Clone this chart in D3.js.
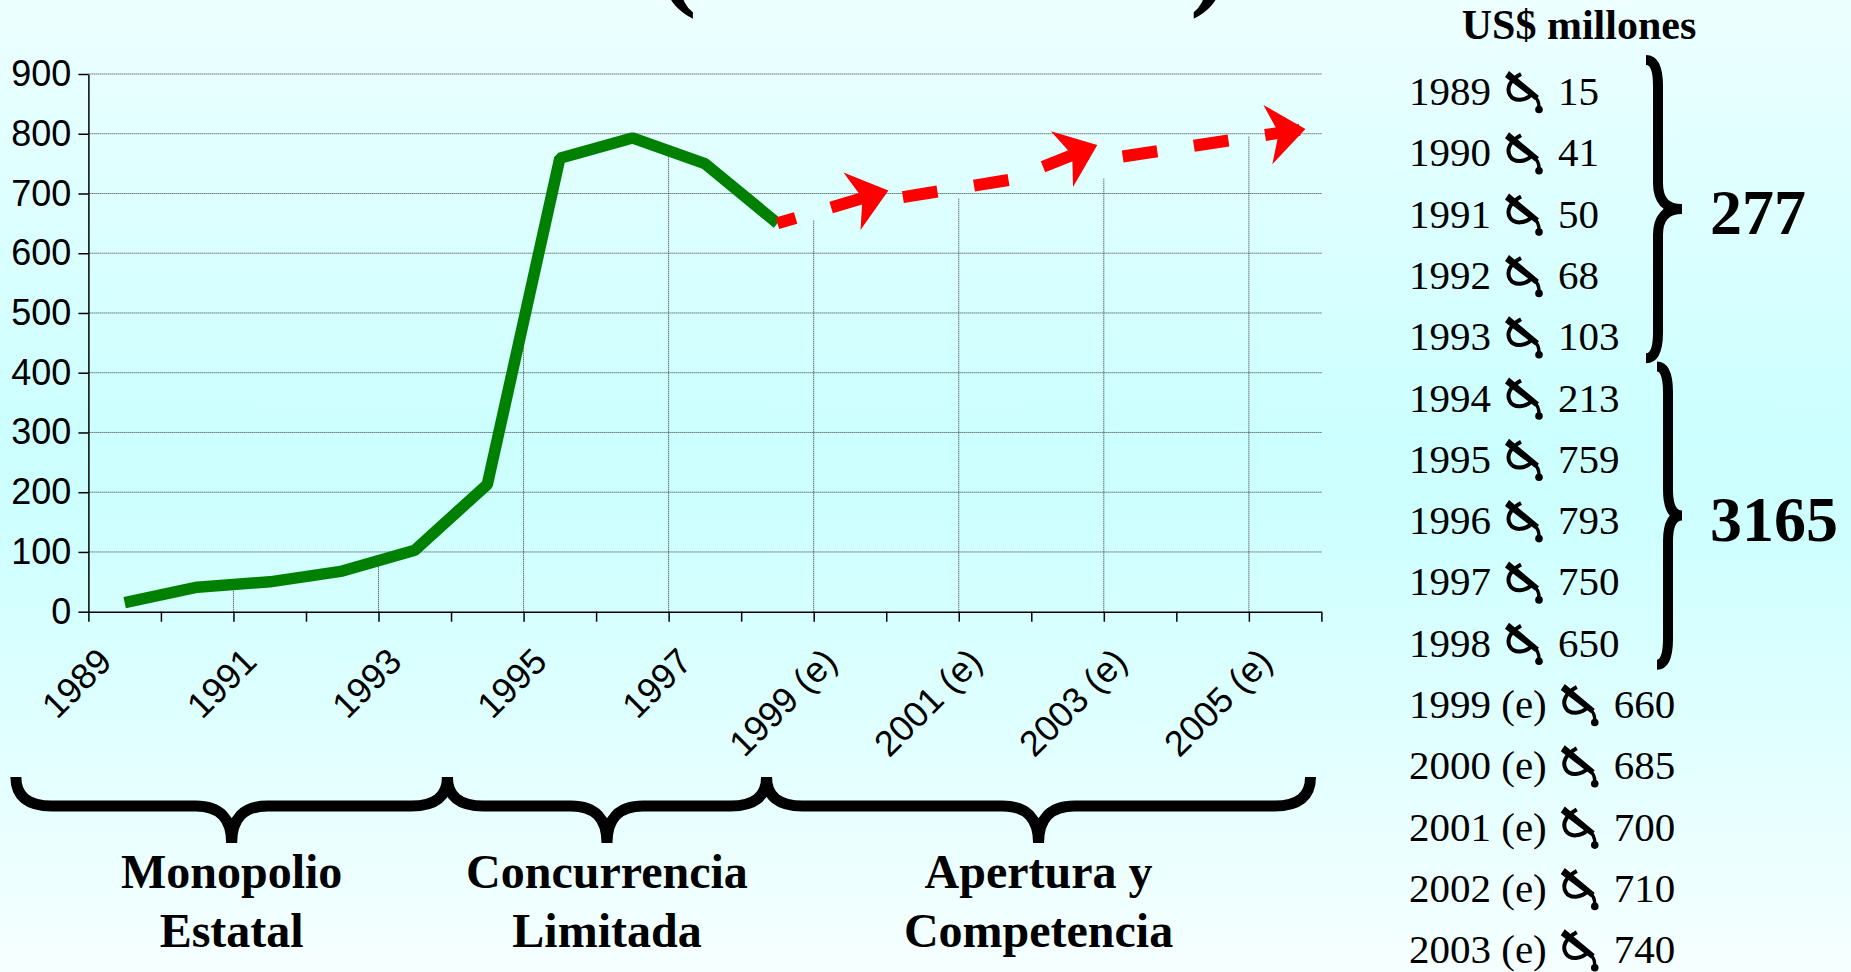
<!DOCTYPE html>
<html>
<head>
<meta charset="utf-8">
<script src="https://cdn.jsdelivr.net/npm/d3@7"></script>
<style>
    body { margin: 0; overflow: hidden; }
    svg { display: block; }
</style>
</head>
<body>
<div id="chart"></div>
<script>
// years on the category axis and their labels
var years = [1989, 1990, 1991, 1992, 1993, 1994, 1995, 1996, 1997, 1998,
             1999, 2000, 2001, 2002, 2003, 2004, 2005];
var categories = ["1989", "1990", "1991", "1992", "1993", "1994", "1995", "1996", "1997", "1998",
                  "1999 (e)", "2000 (e)", "2001 (e)", "2002 (e)", "2003 (e)", "2004 (e)", "2005 (e)"];

// US$ millones, real values 1989-1998 and estimates 1999-2005
var actualValues = [15, 41, 50, 68, 103, 213, 759, 793, 750, 650];
var estimateValues = [660, 685, 700, 710, 740, 780, 810];

var yTicks = [0, 100, 200, 300, 400, 500, 600, 700, 800, 900];

// red trend arrows: [year, value] points
var trendArrows = [
    [[1998, 650], [1999.53, 705]],
    [[1999.73, 694], [2001.21, 723], [2002.41, 781]],
    [[2002.76, 762], [2005.28, 808]]
];
var arrowDashOffset = [16, 0, 0];

// periods under the chart: start / end year and label lines
var periodStart = [1987.5, 1993.45, 1997.85];
var periodEnd = [1993.45, 1997.85, 2005.35];
var periodLabels = [["Monopolio", "Estatal"], ["Concurrencia", "Limitada"], ["Apertura y", "Competencia"]];

// groups summed in the table on the right (row index ranges)
var tableGroups = [[0, 4], [5, 9]];

var width = 1851, height = 972;
var plot = { left: 88.4, top: 74, right: 1321.4, bottom: 611.7 };
var serif = "'Times New Roman', 'Liberation Serif', serif";
var sans = "Arial, 'Liberation Sans', sans-serif";

var svg = d3.select("#chart")
    .append("svg")
    .attr("width", width)
    .attr("height", height);

// background gradient
var grad = svg.append("defs")
    .append("linearGradient")
    .attr("id", "bg")
    .attr("x1", 0).attr("y1", 0)
    .attr("x2", 0).attr("y2", 1);
grad.append("stop").attr("offset", "0%").attr("stop-color", "#EDFFFF");
grad.append("stop").attr("offset", "45%").attr("stop-color", "#CCFFFF");
grad.append("stop").attr("offset", "55%").attr("stop-color", "#CFFFFF");
grad.append("stop").attr("offset", "100%").attr("stop-color", "#F6FFFF");

svg.append("rect")
    .attr("width", width)
    .attr("height", height)
    .attr("fill", "url(#bg)");

// title, only the bottom of the parentheses is visible
svg.append("text")
    .attr("x", 658).attr("y", -6)
    .attr("font-family", serif).attr("font-weight", "bold").attr("font-size", 116)
    .text("(");
svg.append("text")
    .attr("x", 1190).attr("y", -6)
    .attr("font-family", serif).attr("font-weight", "bold").attr("font-size", 116)
    .text(")");

// scales
var xYear = d3.scaleLinear()
    .domain([years[0] - 0.5, years[years.length - 1] + 0.5])
    .range([plot.left, plot.right]);

var y = d3.scaleLinear()
    .domain([0, 900])
    .range([plot.bottom, plot.top]);

var allValues = actualValues.concat(estimateValues);
var levelAt = d3.scaleLinear().domain(years).range(allValues);

// horizontal gridlines
svg.append("g")
    .selectAll("line")
    .data(yTicks.filter(d => d > 0))
    .enter()
    .append("line")
    .attr("x1", plot.left)
    .attr("x2", plot.right)
    .attr("y1", d => y(d))
    .attr("y2", d => y(d))
    .attr("stroke", "#333")
    .attr("stroke-width", 1)
    .attr("stroke-dasharray", "1,1");

// vertical lines every two categories, up to the series level
var boundaries = d3.range(2, years.length, 2).map(k => years[0] - 0.5 + k);
svg.append("g")
    .selectAll("line")
    .data(boundaries)
    .enter()
    .append("line")
    .attr("x1", d => xYear(d))
    .attr("x2", d => xYear(d))
    .attr("y1", plot.bottom)
    .attr("y2", d => y(levelAt(d)))
    .attr("stroke", "#333")
    .attr("stroke-width", 1)
    .attr("stroke-dasharray", "1,1");

// y axis
var yAxis = d3.axisLeft(y)
    .tickValues(yTicks)
    .tickSize(10)
    .tickSizeOuter(0)
    .tickPadding(7);

var yG = svg.append("g")
    .attr("transform", "translate(" + plot.left + ",0)")
    .call(yAxis);
yG.selectAll("text").attr("font-size", 36).attr("font-family", sans).attr("fill", "#000");
yG.selectAll("line").attr("stroke", "#000").attr("stroke-width", 1.5);
yG.select(".domain").attr("stroke", "#000").attr("stroke-width", 1.5);

// x axis, ticks between categories
var xAxis = d3.axisBottom(xYear)
    .tickValues(d3.range(0, years.length + 1).map(k => years[0] - 0.5 + k))
    .tickSize(10)
    .tickSizeOuter(0)
    .tickFormat("");

var xG = svg.append("g")
    .attr("transform", "translate(0," + plot.bottom + ")")
    .call(xAxis);
xG.selectAll("line").attr("stroke", "#000").attr("stroke-width", 1.5);
xG.select(".domain").attr("stroke", "#000").attr("stroke-width", 1.5);

// x labels every second category
svg.selectAll(".x-label")
    .data(categories.filter((d, i) => i % 2 == 0))
    .enter()
    .append("text")
    .attr("class", "x-label")
    .attr("transform", (d, i) => "translate(" + (xYear(years[i * 2]) - 11) + "," + (plot.bottom + 52) + ") rotate(-45)")
    .attr("text-anchor", "end")
    .attr("font-family", sans)
    .attr("font-size", 36)
    .text(d => d);

// real values line
var line = d3.line()
    .x((d, i) => xYear(years[i]))
    .y(d => y(d));

svg.append("path")
    .datum(actualValues)
    .attr("d", line)
    .attr("fill", "none")
    .attr("stroke", "#008000")
    .attr("stroke-width", 11.5)
    .attr("stroke-linejoin", "bevel");

// red dashed trend arrows
var arrowLine = d3.line()
    .x(d => xYear(d[0]))
    .y(d => y(d[1]));

trendArrows.forEach((pts, i) => {
    svg.append("path")
        .datum(pts)
        .attr("d", arrowLine)
        .attr("fill", "none")
        .attr("stroke", "#FF0000")
        .attr("stroke-width", 12)
        .attr("stroke-dasharray", "35,37")
        .attr("stroke-dashoffset", arrowDashOffset[i]);

    var a = pts[pts.length - 2], b = pts[pts.length - 1];
    var ang = Math.atan2(y(b[1]) - y(a[1]), xYear(b[0]) - xYear(a[0])) * 180 / Math.PI;
    svg.append("path")
        .attr("d", "M0,0 L-38,-30 L-27,0 L-38,30 Z")
        .attr("transform", "translate(" + xYear(b[0]) + "," + y(b[1]) + ") rotate(" + ang + ")")
        .attr("fill", "#FF0000");
});

// period braces under the axis
var braceTop = 777, braceStem = 806, braceTip = 843, braceR = 36;
periodLabels.forEach((lines, i) => {
    var x0 = xYear(periodStart[i]), x1 = xYear(periodEnd[i]);
    var xm = (x0 + x1) / 2;
    var p = d3.path();
    p.moveTo(x0, braceTop);
    p.quadraticCurveTo(x0, braceStem, x0 + braceR, braceStem);
    p.lineTo(xm - braceR, braceStem);
    p.quadraticCurveTo(xm, braceStem, xm, braceTip);
    p.quadraticCurveTo(xm, braceStem, xm + braceR, braceStem);
    p.lineTo(x1 - braceR, braceStem);
    p.quadraticCurveTo(x1, braceStem, x1, braceTop);
    svg.append("path")
        .attr("d", p.toString())
        .attr("fill", "none")
        .attr("stroke", "#000")
        .attr("stroke-width", 11);

    svg.append("text")
        .attr("x", xm)
        .attr("text-anchor", "middle")
        .attr("font-family", serif)
        .attr("font-weight", "bold")
        .attr("font-size", 48)
        .selectAll("tspan")
        .data(lines)
        .enter()
        .append("tspan")
        .attr("x", xm)
        .attr("y", (d, j) => 888 + j * 58.5)
        .text(d => d);
});

// table on the right
var tableX = 1409, rowTop = 105, rowStep = 61.3;

svg.append("text")
    .attr("x", 1579).attr("y", 39)
    .attr("text-anchor", "middle")
    .attr("font-family", serif).attr("font-weight", "bold").attr("font-size", 42)
    .text("US$ millones");

// glyph shown between year and value (a looped arrow sign)
var glyphLoop = "M16,-31 C5,-25 1,-17 5,-10 C9,-3 21,-4 27,-11";
var glyphBar = "M0,-28 L4,-34 L34,-9 L30,-5 Z";
var glyphTail = "M29,-9 C33,-6 34,-1 34,2";

var rows = svg.selectAll(".row")
    .data(categories)
    .enter()
    .append("g")
    .attr("class", "row")
    .attr("transform", (d, i) => "translate(" + tableX + "," + (rowTop + i * rowStep) + ")");

rows.each(function(d, i) {
    var g = d3.select(this);
    var t = g.append("text")
        .attr("font-family", serif)
        .attr("font-size", 41)
        .text(d);
    var w = t.node().getComputedTextLength();
    var gx = w + 14;
    var sym = g.append("g").attr("transform", "translate(" + gx + ",0)");
    sym.append("path")
        .attr("d", glyphLoop)
        .attr("fill", "none")
        .attr("stroke", "#000")
        .attr("stroke-width", 4);
    sym.append("path")
        .attr("d", glyphBar)
        .attr("fill", "#000");
    sym.append("path")
        .attr("d", glyphTail)
        .attr("fill", "none")
        .attr("stroke", "#000")
        .attr("stroke-width", 3.4);
    sym.append("circle")
        .attr("cx", 34).attr("cy", 4.5).attr("r", 3.8)
        .attr("fill", "#000");
    g.append("text")
        .attr("x", gx + 53)
        .attr("font-family", serif)
        .attr("font-size", 41)
        .text(allValues[i]);
});

// braces with group sums
var braceStemX = [1658, 1668], braceEndX = [1646, 1657], braceTipX = 1682;
tableGroups.forEach((grp, i) => {
    var y0 = rowTop + grp[0] * rowStep - 45;
    var y1 = rowTop + grp[1] * rowStep + 8;
    var ym = (y0 + y1) / 2;
    var xs = braceStemX[i], r = 26;
    var p = d3.path();
    p.moveTo(braceEndX[i], y0);
    p.quadraticCurveTo(xs, y0, xs, y0 + r);
    p.lineTo(xs, ym - r);
    p.quadraticCurveTo(xs, ym, braceTipX, ym);
    p.quadraticCurveTo(xs, ym, xs, ym + r);
    p.lineTo(xs, y1 - r);
    p.quadraticCurveTo(xs, y1, braceEndX[i], y1);
    svg.append("path")
        .attr("d", p.toString())
        .attr("fill", "none")
        .attr("stroke", "#000")
        .attr("stroke-width", 10);

    svg.append("text")
        .attr("x", 1710)
        .attr("y", ym + 25)
        .attr("font-family", serif)
        .attr("font-weight", "bold")
        .attr("font-size", 64)
        .text(d3.sum(allValues.slice(grp[0], grp[1] + 1)));
});
</script>
</body>
</html>
